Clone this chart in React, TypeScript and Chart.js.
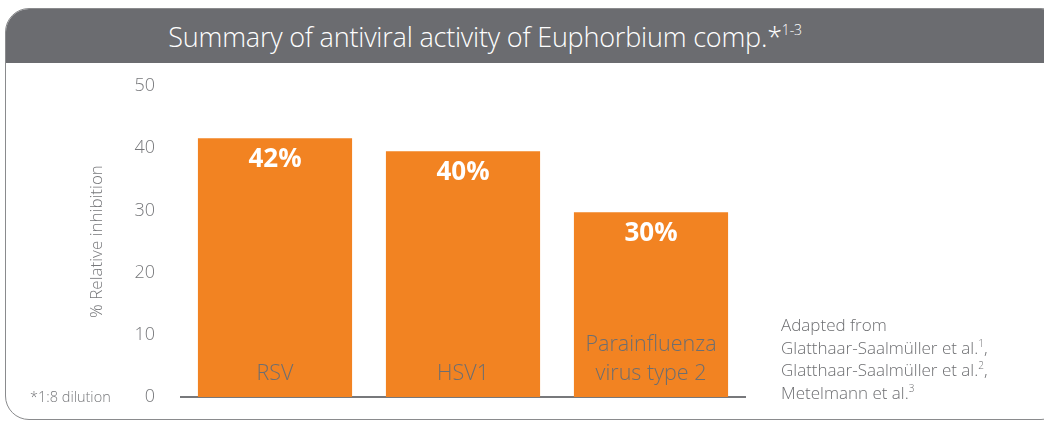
import React, { useEffect, useRef } from "react";
import { Chart, registerables } from "chart.js";

Chart.register(...registerables);

const categories: string[][] = [["RSV"], ["HSV1"], ["Parainfluenza", "virus type 2"]];
const inhibition: number[] = [41.6, 39.5, 29.7];
const valueLabels: string[] = ["42%", "40%", "30%"];
const yTicks: number[] = [0, 10, 20, 30, 40, 50];
const titleText = "Summary of antiviral activity of Euphorbium comp.";
const yTitle = "% Relative inhibition";
const footnote = "*1:8 dilution";
const sources: [string, string][] = [
  ["Adapted from", ""],
  ["Glatthaar-Saalmüller et al.", "1"],
  ["Glatthaar-Saalmüller et al.", "2"],
  ["Metelmann et al.", "3"],
];

const FONT = '"Open Sans", "DejaVu Sans", sans-serif';
const ORANGE = "#f28322";
const GRAY_TEXT = "#6d6e71";
const HEADER = "#6b6c70";

const barLabelPlugin = {
  id: "barLabels",
  afterDatasetsDraw(chart: any) {
    const meta = chart.getDatasetMeta(0);
    const ctx = chart.ctx;
    meta.data.forEach((bar: any, i: number) => {
      const { x, y, base } = bar.getProps(["x", "y", "base"], true);
      ctx.save();
      ctx.textAlign = "center";
      ctx.textBaseline = "middle";
      ctx.fillStyle = "#ffffff";
      ctx.font = `bold 26px ${FONT}`;
      ctx.fillText(valueLabels[i], x, y + 21);
      const lines = categories[i];
      ctx.fillStyle = GRAY_TEXT;
      ctx.font = `300 21.5px ${FONT}`;
      lines.forEach((ln, j) => {
        ctx.fillText(ln, x, base - 23 - (lines.length - 1 - j) * 29);
      });
      ctx.restore();
    });
  },
};

export default function App() {
  const canvasRef = useRef<HTMLCanvasElement | null>(null);

  useEffect(() => {
    if (!canvasRef.current) return;
    const chart = new Chart(canvasRef.current, {
      type: "bar",
      data: {
        labels: categories,
        datasets: [
          {
            data: inhibition,
            backgroundColor: ORANGE,
            borderWidth: 0,
            barPercentage: 0.82,
            categoryPercentage: 1,
          },
        ],
      },
      options: {
        animation: false,
        responsive: false,
        maintainAspectRatio: false,
        layout: { padding: { left: 80, right: 299, top: 86, bottom: 24 } },
        plugins: {
          legend: { display: false },
          tooltip: { enabled: false },
          title: { display: false },
        },
        scales: {
          x: {
            afterFit(scale: any) {
              scale.height = 0;
            },
            grid: { display: false, drawTicks: false },
            border: { display: true, color: "#77787b", width: 2 },
            ticks: { display: false },
          },
          y: {
            min: 0,
            max: 50,
            afterBuildTicks(scale: any) {
              scale.ticks = yTicks.map((v) => ({ value: v }));
            },
            afterFit(scale: any) {
              scale.width = 101;
              scale.paddingTop = 11;
              scale.paddingBottom = 11;
            },
            grid: { display: false, drawTicks: false },
            border: { display: false },
            ticks: {
              padding: 26,
              color: "#77787b",
              font: { family: FONT, size: 18, weight: "300" as any },
            },
            title: {
              display: true,
              text: yTitle,
              color: "#77787b",
              padding: { top: 7, bottom: 0 },
              font: { family: FONT, size: 17, weight: "300" as any },
            },
          },
        },
      },
      plugins: [barLabelPlugin],
    });
    return () => chart.destroy();
  }, []);

  return (
    <div style={{ position: "fixed", left: 0, top: 0, width: 1044, height: 421, overflow: "hidden", background: "#fff" }}>
      <div
        style={{
          position: "absolute",
          left: 5,
          top: 8,
          width: 1060,
          height: 412,
          border: "1.5px solid #8a8b8d",
          borderRadius: 24,
          boxSizing: "border-box",
          overflow: "hidden",
        }}
      >
        <div
          style={{
            position: "absolute",
            left: 0,
            top: 0,
            right: 0,
            height: 54,
            background: HEADER,
          }}
        />
      </div>
      <div
        style={{
          position: "absolute",
          left: 0,
          width: 970,
          top: 8,
          height: 54,
          display: "flex",
          alignItems: "center",
          justifyContent: "center",
          color: "#ffffff",
          fontFamily: FONT,
          fontWeight: 300,
          fontSize: 27,
          letterSpacing: -0.2,
          whiteSpace: "nowrap",
          paddingTop: 3,
          boxSizing: "border-box",
        }}
      >
        <span>
          {titleText}
          <span>*</span>
          <sup style={{ fontSize: 14, verticalAlign: "super", position: "relative", top: -2 }}>1-3</sup>
        </span>
      </div>
      <canvas
        ref={canvasRef}
        width={1044}
        height={421}
        style={{ position: "absolute", left: 0, top: 0, width: 1044, height: 421 }}
      />
      <div
        style={{
          position: "absolute",
          left: 30,
          top: 387,
          color: "#77787b",
          fontFamily: FONT,
          fontWeight: 300,
          fontSize: 14.5,
          whiteSpace: "nowrap",
        }}
      >
        {footnote}
      </div>
      <div
        style={{
          position: "absolute",
          left: 781,
          top: 314,
          color: GRAY_TEXT,
          fontFamily: FONT,
          fontWeight: 300,
          fontSize: 17,
          lineHeight: "22.5px",
          whiteSpace: "nowrap",
        }}
      >
        {sources.map(([t, s], i) => (
          <div key={i}>
            {t}
            {s && <sup style={{ fontSize: 10, lineHeight: 0 }}>{s}</sup>}
            {i > 0 && i < sources.length - 1 ? "," : ""}
          </div>
        ))}
      </div>
    </div>
  );
}
